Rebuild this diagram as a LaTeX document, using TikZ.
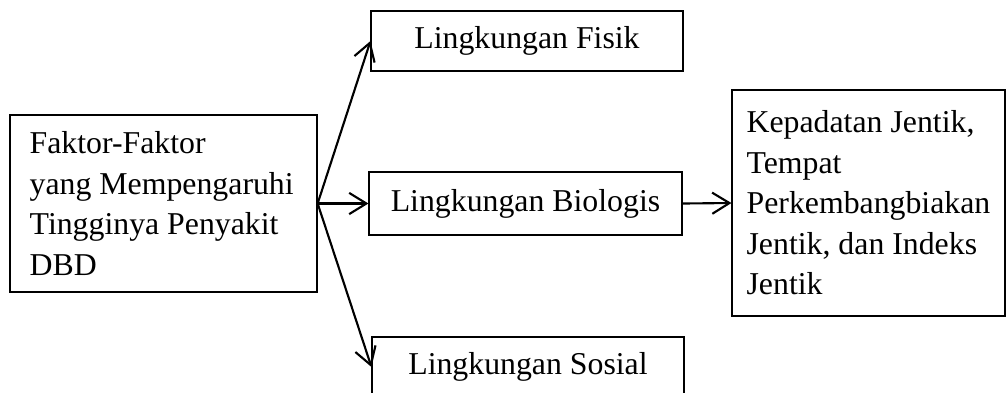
\documentclass[tikz,border=0pt]{standalone}
\usepackage{fontspec}
\setmainfont{Liberation Serif}
\usetikzlibrary{arrows.meta}

\begin{document}
\begin{tikzpicture}[x=0.3774pt,y=-0.3774pt,
  nodes = {draw,line width=0.45pt,inner sep=0pt,font=\fontsize{12}{15.3}\selectfont},
  lingkungan/.style = {align=center,minimum width=117.7pt,minimum height=22.6pt},
  >={Straight Barb[length=6.5pt,width=8pt]}]
\useasboundingbox (0,0) rectangle (1006,392);

\node[align=flush left,text width=101pt,inner xsep=7.45pt,minimum height=66.8pt] (faktor) at (163.5,203.5) {Faktor-Faktor\\yang Mempengaruhi\\Tingginya Penyakit\\DBD};

\node[lingkungan] (fisik) at (527,41) {Lingkungan Fisik};
\node[lingkungan,minimum width=118.1pt,minimum height=23.8pt] (biologis) at (525.5,203.5) {Lingkungan Biologis};
\node[lingkungan] (sosial) at (528,367) {Lingkungan Sosial};

\node[align=flush left,text width=92pt,inner xsep=5.5pt,minimum height=85.3pt] (jentik) at (868.5,203) {Kepadatan Jentik,\\Tempat\\Perkembangbiakan\\Jentik, dan Indeks\\Jentik};

\draw[->,line width=0.8pt] (faktor.east) to (fisik.west);
\draw[->,line width=0.8pt] (faktor.east) to (biologis.west);
\draw[->,line width=0.8pt] (faktor.east) to (sosial.west);
\draw[->,line width=0.8pt] (biologis.east) to (jentik.west);
\end{tikzpicture}
\end{document}
